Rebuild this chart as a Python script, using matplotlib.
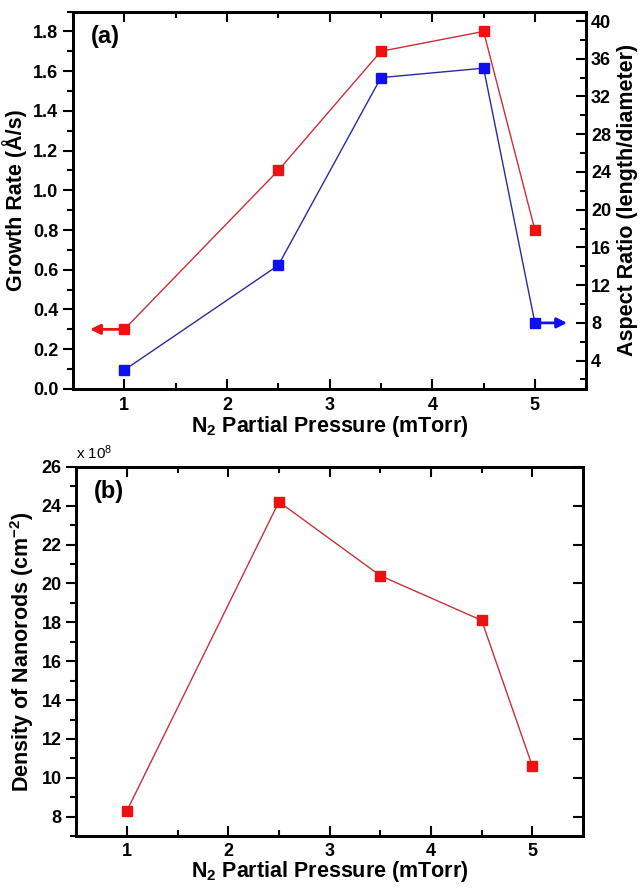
import matplotlib
matplotlib.use('Agg')
import matplotlib.pyplot as plt
from matplotlib.ticker import MultipleLocator

plt.rcParams['font.family'] = ['Liberation Sans', 'DejaVu Sans']
plt.rcParams['font.weight'] = 'bold'
plt.rcParams['mathtext.default'] = 'regular'

# N2 partial pressure (mTorr)
pressure = [1.0, 2.5, 3.5, 4.5, 5.0]
# growth rate (A/s), left axis of (a)
growth_rate = [0.30, 1.10, 1.70, 1.80, 0.80]
# aspect ratio (length/diameter), right axis of (a)
aspect_ratio = [3.0, 14.1, 34.0, 35.0, 8.0]
# nanorod density (x 1e8 cm^-2), panel (b)
density = [8.3, 24.2, 20.4, 18.1, 10.6]

x_ticks = [1, 2, 3, 4, 5]

red_mk = '#ee1111'
red_ln = '#c8303a'
blue_mk = '#1010ee'
blue_ln = '#2b2b9c'

tsize, lsize, psize = 13, 15.5, 17

fig = plt.figure(figsize=(6.4, 8.9), dpi=100)

def style_ticks(a):
    a.tick_params(which='major', length=7, width=1.5)
    a.tick_params(which='minor', length=4, width=1.5)
    for s in a.spines.values():
        s.set_linewidth(2.0)

# ---- panel (a) ---------------------------------------------------------------
ax = fig.add_axes([0.114, 0.563, 0.802, 0.424])
ax.plot(pressure, growth_rate, '-', color=red_ln, lw=1.0, zorder=2)
ax.plot(pressure, growth_rate, 's', color=red_mk, ms=7, zorder=3)
ax.set_xlim(0.5, 5.5)
ax.set_ylim(0.0, 1.9)
ax.xaxis.set_minor_locator(MultipleLocator(0.5))
ax.yaxis.set_minor_locator(MultipleLocator(0.1))
ax.set_xticks(x_ticks)
ax.set_yticks([0.0, 0.2, 0.4, 0.6, 0.8, 1.0, 1.2, 1.4, 1.6, 1.8])
ax.tick_params(axis='x', which='both', direction='in', top=True, labelsize=tsize, pad=6)
ax.tick_params(axis='y', which='both', direction='out', labelsize=tsize)
style_ticks(ax)
ax.set_xlabel('N$_2$ Partial Pressure (mTorr)', fontsize=lsize, fontweight='bold', labelpad=0)
ax.set_ylabel('Growth Rate (Å/s)', fontsize=lsize, fontweight='bold', labelpad=4)
ax.annotate('', xy=(0.64, growth_rate[0]), xytext=(pressure[0], growth_rate[0]),
            arrowprops=dict(arrowstyle='-|>', color=red_mk, lw=2.0,
                            mutation_scale=15), zorder=4)
ax.text(0.035, 0.965, '(a)', transform=ax.transAxes, ha='left', va='top',
        fontsize=psize, fontweight='bold')

ar = ax.twinx()
ar.plot(pressure, aspect_ratio, '-', color=blue_ln, lw=1.0, zorder=2)
ar.plot(pressure, aspect_ratio, 's', color=blue_mk, ms=7, zorder=3)
ar.set_ylim(1.0, 41.0)
ar.yaxis.set_minor_locator(MultipleLocator(2))
ar.set_yticks([4, 8, 12, 16, 20, 24, 28, 32, 36, 40])
ar.tick_params(axis='y', which='both', direction='in', labelsize=tsize)
style_ticks(ar)
ar.set_ylabel('Aspect Ratio (length/diameter)', fontsize=lsize, fontweight='bold', labelpad=4)
ar.annotate('', xy=(5.34, aspect_ratio[-1]), xytext=(pressure[-1], aspect_ratio[-1]),
            arrowprops=dict(arrowstyle='-|>', color=blue_mk, lw=2.0,
                            mutation_scale=15), zorder=4)

# ---- panel (b) ---------------------------------------------------------------
bx = fig.add_axes([0.119, 0.0605, 0.792, 0.415])
bx.plot(pressure, density, '-', color=red_ln, lw=1.0, zorder=2)
bx.plot(pressure, density, 's', color=red_mk, ms=7, zorder=3)
bx.set_xlim(0.5, 5.5)
bx.set_ylim(7.0, 26.0)
bx.xaxis.set_minor_locator(MultipleLocator(0.5))
bx.yaxis.set_minor_locator(MultipleLocator(1))
bx.set_xticks(x_ticks)
bx.set_yticks([8, 10, 12, 14, 16, 18, 20, 22, 24, 26])
bx.tick_params(axis='x', which='both', direction='in', top=True, labelsize=tsize, pad=5)
bx.tick_params(axis='y', which='both', direction='out', labelsize=tsize)
style_ticks(bx)
bx.set_xlabel('N$_2$ Partial Pressure (mTorr)', fontsize=lsize, fontweight='bold', labelpad=-1)
bx.set_ylabel('Density of Nanorods (cm$^{-2}$)', fontsize=lsize, fontweight='bold', labelpad=4)
bx.text(0.035, 0.965, '(b)', transform=bx.transAxes, ha='left', va='top',
        fontsize=psize, fontweight='bold')
bx.text(0.0, 1.012, 'x 10$^{8}$', transform=bx.transAxes, ha='left', va='bottom',
        fontsize=11, fontweight='normal')

br = bx.twinx()
br.set_ylim(bx.get_ylim())
br.set_yticks([8, 10, 12, 14, 16, 18, 20, 22, 24, 26])
br.tick_params(axis='y', direction='in', labelright=False)
style_ticks(br)

fig.savefig('out.png', dpi=100)
